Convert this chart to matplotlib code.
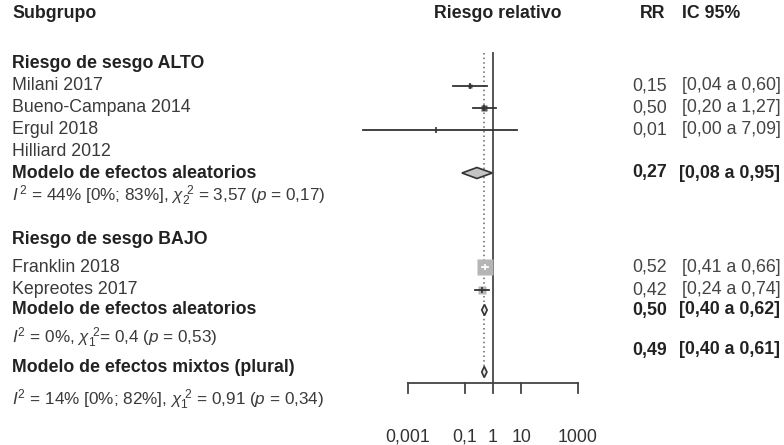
import numpy as np
import matplotlib.pyplot as plt
from matplotlib.transforms import blended_transform_factory
from matplotlib.patches import Polygon

plt.rcParams['font.family'] = ['Liberation Sans', 'DejaVu Sans']
plt.rcParams['mathtext.fontset'] = 'custom'
plt.rcParams['mathtext.rm'] = 'Liberation Sans'
plt.rcParams['mathtext.it'] = 'Liberation Sans:italic'

# ── datos ──
estudios = ["Milani 2017", "Bueno-Campana 2014", "Ergul 2018", "Hilliard 2012",
            "Franklin 2018", "Kepreotes 2017"]
rr = [0.15, 0.50, 0.01, None, 0.52, 0.42]
ic_inf = [0.04, 0.20, 2.6e-5, None, 0.41, 0.24]
ic_sup = [0.60, 1.27, 7.09, None, 0.66, 0.74]
peso = [4, 8, 0.5, 0, 70, 15]
rr_txt = ["0,15", "0,50", "0,01", "", "0,52", "0,42"]
ic_txt = ["[0,04 a 0,60]", "[0,20 a 1,27]", "[0,00 a 7,09]", "", "[0,41 a 0,66]", "[0,24 a 0,74]"]

modelos = ["alto", "bajo", "mixto"]
mod_rr = [0.27, 0.50, 0.49]
mod_inf = [0.08, 0.40, 0.40]
mod_sup = [0.95, 0.62, 0.61]
mod_rr_txt = ["0,27", "0,50", "0,49"]
mod_ic_txt = ["[0,08 a 0,95]", "[0,40 a 0,62]", "[0,40 a 0,61]"]

ticks = [0.001, 0.1, 1, 10, 1000]
tick_lbl = ["0,001", "0,1", "1", "10", "1000"]

# ── layout (pixeles) ──
W, H = 784, 445
y_est = [86, 108, 130, 152, 267, 290]
y_mod = [173, 310, 372]
y_mod_txt = [173, 310, 350]
x_uno, px_dec = 493, 28.3

fig = plt.figure(figsize=(W / 100, H / 100), dpi=100)
ax = fig.add_axes([0, 0, 1, 1])
ax.set_xscale('log')
ax.set_xlim(10 ** (-x_uno / px_dec), 10 ** ((W - x_uno) / px_dec))
ax.set_ylim(H, 0)
ax.axis('off')
tr = blended_transform_factory(ax.transAxes, ax.transData)

def txt(x, y, s, bold=False, color='#3a3a3a', size=12.8, ha='left'):
    ax.text(x / W, y, s, transform=tr, ha=ha, va='center', fontsize=size,
            fontweight='bold' if bold else 'normal', color=color)

# encabezados
txt(12, 13, "Subgrupo", bold=True, color='#222')
txt(498, 13, "Riesgo relativo", bold=True, color='#222', ha='center')
txt(640, 13, "RR", bold=True, color='#222')
txt(682, 13, "IC 95%", bold=True, color='#222')

txt(12, 64, "Riesgo de sesgo ALTO", bold=True, color='#222')
txt(12, 239, "Riesgo de sesgo BAJO", bold=True, color='#222')
for nombre, y in zip(estudios, y_est):
    txt(12, y, nombre)
txt(12, 173, "Modelo de efectos aleatorios", bold=True, color='#222')
txt(12, 310, "Modelo de efectos aleatorios", bold=True, color='#222')
txt(12, 367, "Modelo de efectos mixtos (plural)", bold=True, color='#222')
txt(12, 196, r"$I^{\,2}$ = 44% [0%; 83%], $\chi_2^{\ 2}$ = 3,57 ($p$ = 0,17)", size=12.3)
txt(12, 338, r"$I^2$ = 0%, $\chi_1^{\ 2}$= 0,4 ($p$ = 0,53)", size=12.3)
txt(12, 400, r"$I^2$ = 14% [0%; 82%], $\chi_1^{\ 2}$ = 0,91 ($p$ = 0,34)", size=12.3)

# columnas RR / IC
for r, c, y in zip(rr_txt, ic_txt, y_est):
    txt(632, y, r, color='#444')
    txt(682, y, c, color='#444')
for r, c, y in zip(mod_rr_txt, mod_ic_txt, y_mod_txt):
    txt(632, y, r, bold=True, color='#222')
    txt(679, y, c, bold=True, color='#222')

# lineas de referencia
ax.plot([1, 1], [53, 383], color='#555', lw=1.4)
ax.plot([mod_rr[2]] * 2, [53, 378], color='#666', lw=1.1, ls=(0, (1, 2)))

# estudios
for i, y in enumerate(y_est):
    if rr[i] is None:
        continue
    lado = 1.91 * np.sqrt(peso[i])
    gris = peso[i] > 10
    ax.plot(rr[i], y, marker='s', ms=lado * 0.72, color='#b5b5b5' if gris else '#555',
            mec='none', zorder=3)
    dentro = (np.log10(ic_sup[i]) - np.log10(ic_inf[i])) * px_dec < lado
    col = 'white' if dentro else '#333'
    ax.plot([ic_inf[i], ic_sup[i]], [y, y], color=col, lw=1.3, zorder=4)
    ax.plot(rr[i], y, marker='|', ms=4, color=col, mew=1.2, zorder=4)

# diamantes
colores = ['#c4c4c4', '#e8e8e8', '#e8e8e8']
for m, y in enumerate(y_mod):
    d = Polygon([[mod_inf[m], y], [mod_rr[m], y - 5.5], [mod_sup[m], y], [mod_rr[m], y + 5.5]],
                closed=True, facecolor=colores[m], edgecolor='#333', lw=1.2, zorder=5)
    ax.add_patch(d)

# eje x
ax.plot([ticks[0], ticks[-1]], [383, 383], color='#444', lw=1.3)
for t, l in zip(ticks, tick_lbl):
    ax.plot([t, t], [383, 393], color='#444', lw=1.3)
    ax.text(t, 437, l, ha='center', va='center', fontsize=12.8, color='#333')

fig.savefig('out.png', dpi=100)
